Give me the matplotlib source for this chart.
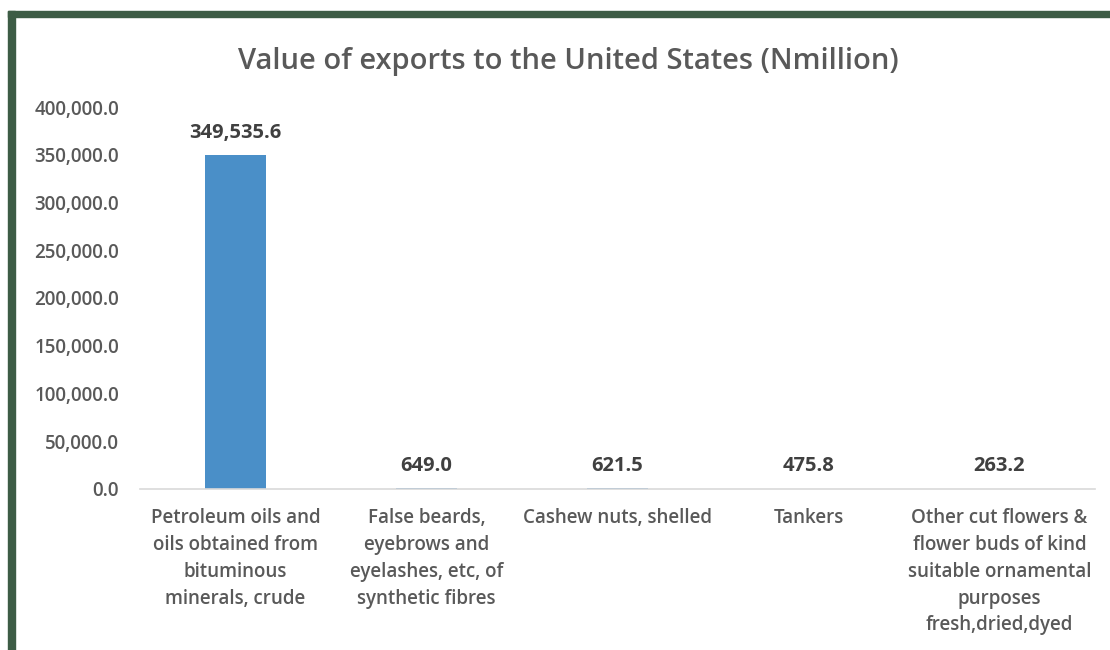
import matplotlib
matplotlib.use("Agg")
import matplotlib.pyplot as plt
from matplotlib.patches import Rectangle
from matplotlib.ticker import FuncFormatter

categories = [
    "Petroleum oils and\noils obtained from\nbituminous\nminerals, crude",
    "False beards,\neyebrows and\neyelashes, etc, of\nsynthetic fibres",
    "Cashew nuts, shelled",
    "Tankers",
    "Other cut flowers &\nflower buds of kind\nsuitable ornamental\npurposes\nfresh,dried,dyed",
]
values = [349535.6, 649.0, 621.5, 475.8, 263.2]
yticks = [0, 50000, 100000, 150000, 200000, 250000, 300000, 350000, 400000]

plt.rcParams['font.family'] = ['Open Sans', 'DejaVu Sans']
text_grey = '#595959'
label_grey = '#404040'

fig = plt.figure(figsize=(11.1, 6.5), dpi=100)
W, H = 1110, 650

# green frame along the top and left edges
green = '#3d5c45'
fig.patches.append(Rectangle((8 / W, 0), 7 / W, 1 - 11 / H, transform=fig.transFigure,
                             color=green, zorder=0))
fig.patches.append(Rectangle((8 / W, 1 - 17 / H), 1 - 8 / W, 6 / H, transform=fig.transFigure,
                             color=green, zorder=0))

ax = fig.add_axes([140 / W, 1 - 489 / H, 955 / W, (489 - 107) / H])
x = range(len(categories))
ax.bar(x, values, width=0.32, color='#4a8fc8')
ax.set_xlim(-0.5, len(categories) - 0.5)
ax.set_ylim(0, 400000)
ax.set_yticks(yticks)
ax.yaxis.set_major_formatter(FuncFormatter(lambda v, p: f"{v:,.1f}"))
ax.set_xticks(list(x))
ax.set_xticklabels(categories, fontsize=13.5, color=text_grey, linespacing=1.45,
                   va='top', fontweight='semibold')
for lbl in ax.get_yticklabels():
    lbl.set_fontweight('semibold')
ax.tick_params(axis='y', length=0, labelsize=13.5, labelcolor=text_grey, pad=15)
ax.tick_params(axis='x', length=0, pad=14)
for s in ['top', 'right', 'left']:
    ax.spines[s].set_visible(False)
ax.spines['bottom'].set_color('#d9d9d9')
ax.spines['bottom'].set_linewidth(1.2)

for xi, v in zip(x, values):
    ax.annotate(f"{v:,.1f}", (xi, v), xytext=(0, 9), textcoords='offset points',
                ha='center', va='bottom', fontsize=14.5, fontweight='bold', color=label_grey)

fig.text(568 / W, 1 - 62 / H, "Value of exports to the United States (Nmillion)",
         ha='center', va='center', fontsize=21, color=text_grey, fontweight='semibold')

fig.savefig('out.png', dpi=100)
